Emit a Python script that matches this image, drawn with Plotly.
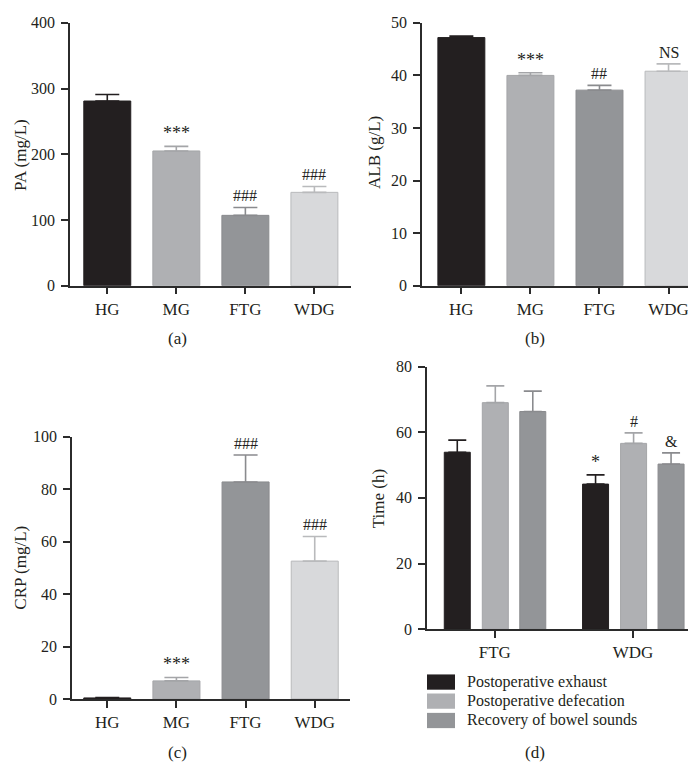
import plotly.graph_objects as go

# ---------------- data ----------------
groups = ["HG", "MG", "FTG", "WDG"]
pa_mean = [281, 205, 107, 142]
pa_sd = [10, 7, 12, 9]
pa_marks = ["", "***", "###", "###"]

alb_mean = [47.2, 40.0, 37.2, 40.8]
alb_sd = [0.3, 0.5, 0.9, 1.4]
alb_marks = ["", "***", "##", "NS"]

crp_mean = [0.4, 6.9, 82.8, 52.6]
crp_sd = [0.1, 1.3, 10.3, 9.4]
crp_marks = ["", "***", "###", "###"]

time_groups = ["FTG", "WDG"]
time_series = ["Postoperative exhaust", "Postoperative defecation", "Recovery of bowel sounds"]
exhaust_mean = [53.9, 44.2]
exhaust_sd = [3.7, 2.8]
defecation_mean = [69.0, 56.6]
defecation_sd = [5.1, 3.2]
bowel_mean = [66.3, 50.3]
bowel_sd = [6.2, 3.4]
time_marks = [["", "*"], ["", "#"], ["", "&"]]

# ---------------- styling ----------------
FONT = "Liberation Serif, Times New Roman, serif"
INK = "#231f20"
AXC = "#2b2b2b"
group_fill = [INK, "#afb0b3", "#939598", "#d8d9db"]
group_line = [INK, "#a4a5a8", "#8a8b8e", "#b9babc"]
group_err = [INK, "#a4a5a8", "#8a8b8e", "#b9babc"]
series_fill = [INK, "#afb0b3", "#939598"]
series_line = [INK, "#a4a5a8", "#8a8b8e"]

W, H = 696, 775
fig = go.Figure()


def px_x(x):
    return x / W


def px_y(y):
    return 1 - y / H


def mark_font(s):
    return dict(family=FONT, size=18 if "*" in s else 16, color=INK)


def add_simple_panel(ax, means, sds, marks, yaxis_cfg, xaxis_cfg):
    xa = "x" if ax == 1 else f"x{ax}"
    ya = "y" if ax == 1 else f"y{ax}"
    for i, g in enumerate(groups):
        fig.add_trace(go.Bar(
            x=[g], y=[means[i]], xaxis=xa, yaxis=ya, width=0.68,
            marker=dict(color=group_fill[i], line=dict(color=group_line[i], width=1)),
            error_y=dict(type="data", symmetric=False, array=[sds[i]], arrayminus=[0],
                         color=group_err[i], thickness=1.6, width=12),
            showlegend=False, hoverinfo="skip",
        ))
        if marks[i]:
            fig.add_annotation(x=g, y=means[i] + sds[i], xref=xa, yref=ya, text=marks[i],
                               showarrow=False, yanchor="bottom", yshift=1,
                               font=mark_font(marks[i]))
    fig.layout[f"xaxis{'' if ax == 1 else ax}"] = xaxis_cfg
    fig.layout[f"yaxis{'' if ax == 1 else ax}"] = yaxis_cfg


def xcfg(domain, rng, anchor):
    return dict(domain=domain, range=rng, anchor=anchor, showline=True, linecolor=AXC,
                linewidth=1.6, ticks="outside", ticklen=7, tickwidth=1.6, tickcolor=AXC,
                showgrid=False, zeroline=False, type="category",
                tickfont=dict(family=FONT, size=17, color=INK), fixedrange=True)


def ycfg(domain, rng, dtick, anchor):
    return dict(domain=domain, range=rng, anchor=anchor, showline=True, linecolor=AXC,
                linewidth=1.6, ticks="outside", ticklen=7, tickwidth=1.6, tickcolor=AXC,
                showgrid=False, zeroline=False, dtick=dtick, tick0=0, ticklabelstandoff=3,
                tickfont=dict(family=FONT, size=16, color=INK), fixedrange=True)


top_dom = [px_y(275.7), px_y(7)]
add_simple_panel(1, pa_mean, pa_sd, pa_marks,
                 ycfg(top_dom, [0, 400], 100, "x"),
                 xcfg([px_x(62), px_x(343)], [-0.54, 3.53], "y"))
add_simple_panel(2, alb_mean, alb_sd, alb_marks,
                 ycfg(top_dom, [0, 50], 10, "x2"),
                 xcfg([px_x(414), px_x(693)], [-0.57, 3.47], "y2"))
add_simple_panel(3, crp_mean, crp_sd, crp_marks,
                 ycfg([px_y(698.3), px_y(430.3)], [0, 100], 20, "x3"),
                 xcfg([px_x(64), px_x(342)], [-0.51, 3.51], "y3"))

# panel (d): grouped bars
offsets = [-0.271, 0.004, 0.275]
bw = 0.188
d_means = [exhaust_mean, defecation_mean, bowel_mean]
d_sds = [exhaust_sd, defecation_sd, bowel_sd]
for s in range(3):
    fig.add_trace(go.Bar(
        x=time_groups, y=d_means[s], xaxis="x4", yaxis="y4", width=bw,
        offset=offsets[s] - bw / 2, name=time_series[s],
        marker=dict(color=series_fill[s], line=dict(color=series_line[s], width=1)),
        error_y=dict(type="data", symmetric=False, array=d_sds[s], arrayminus=[0, 0],
                     color=series_line[s], thickness=1.6, width=9),
        showlegend=False, hoverinfo="skip",
    ))
    for j in range(2):
        if time_marks[s][j]:
            fig.add_annotation(x=j + offsets[s], y=d_means[s][j] + d_sds[s][j], xref="x4", yref="y4",
                               text=time_marks[s][j], showarrow=False, yanchor="bottom", yshift=1,
                               font=mark_font(time_marks[s][j]))
fig.layout.xaxis4 = xcfg([px_x(419), px_x(695)], [-0.49, 1.506], "y4")
fig.layout.yaxis4 = ycfg([px_y(627), px_y(358.4)], [0, 80], 20, "x4")

# axis titles and panel labels
def txt(x, y, s, angle=0, size=16, xanchor="center"):
    fig.add_annotation(x=px_x(x), y=px_y(y), xref="paper", yref="paper", text=s,
                       showarrow=False, textangle=angle, xanchor=xanchor, yanchor="middle",
                       font=dict(family=FONT, size=size, color=INK))

txt(13, 142, "PA (mg/L)", -90, 17)
txt(367, 139, "ALB (g/L)", -90, 17)
txt(13, 564, "CRP (mg/L)", -90, 17)
txt(370, 494, "Time (h)", -90, 17)
txt(169, 330, "(a)", 0, 17)
txt(527, 330, "(b)", 0, 17)
txt(169, 753, "(c)", 0, 17)
txt(527, 753, "(d)", 0, 17)

# legend for panel (d)
legend_rows = [681, 700.5, 720.3]
for s in range(3):
    yc = legend_rows[s]
    fig.add_shape(type="rect", xref="paper", yref="paper",
                  x0=px_x(419), x1=px_x(447), y0=px_y(yc + 7.8), y1=px_y(yc - 7.8),
                  fillcolor=series_fill[s], line=dict(width=0))
    txt(456.5, yc, time_series[s], 0, 16, "left")

fig.update_layout(
    width=W, height=H, margin=dict(l=0, r=0, t=0, b=0),
    paper_bgcolor="white", plot_bgcolor="white",
    barmode="overlay", showlegend=False,
    font=dict(family=FONT, color=INK),
)

fig.write_html("out.html")
